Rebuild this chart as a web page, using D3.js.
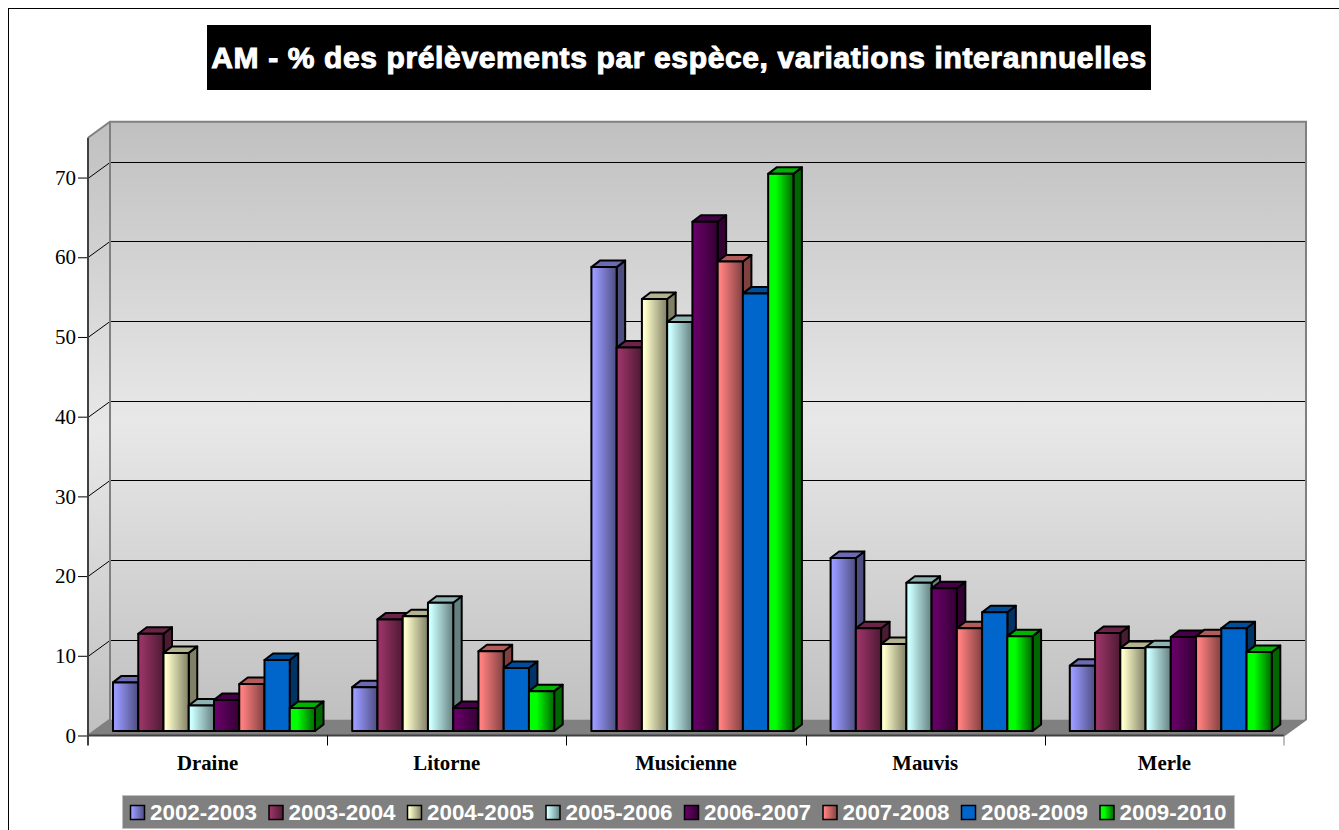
<!DOCTYPE html>
<html><head><meta charset="utf-8"><script src="https://cdn.jsdelivr.net/npm/d3@7"></script>
<style>html,body{margin:0;padding:0;background:#fff;overflow:hidden}svg{display:block}</style></head>
<body><script>
const categories=["Draine","Litorne","Musicienne","Mauvis","Merle"];
const seriesNames=["2002-2003","2003-2004","2004-2005","2005-2006","2006-2007","2007-2008","2008-2009","2009-2010"];
const draine=[6.1,12.2,9.8,3.2,3.9,5.9,8.9,2.9];
const litorne=[5.5,14.0,14.4,16.1,2.9,10.0,7.9,5.0];
const musicienne=[58.2,48.1,54.2,51.3,63.9,58.9,54.9,69.9];
const mauvis=[21.7,12.9,10.9,18.6,17.9,12.9,14.9,11.9];
const merle=[8.2,12.3,10.4,10.5,11.8,11.9,12.9,9.9];
const valuesByCategory=[draine,litorne,musicienne,mauvis,merle];
const yTicks=[0,10,20,30,40,50,60,70];
const colorsLight=["#9999ff","#993366","#ffffcc","#ccffff","#660066","#ff8080","#0066cc","#00ff00"];
const colorsDark=["#4d4d80","#4d1a33","#808066","#668080","#330033","#804040","#0066cc","#006600"];
const colorsSide=["#4d4d80","#4d1a33","#808066","#668080","#330033","#804040","#003366","#006600"];
const colorsTop=["#6b6bb3","#6b2447","#b3b38f","#8fb3b3","#470047","#b35a5a","#004d99","#00b300"];

const W=1339,H=830,dx=22,dy=16,bdx=8.5,bdy=6.5,inset=4.5;
const svg=d3.select("body").append("svg").attr("width",W).attr("height",H);
const x0=d3.scaleBand().domain(categories).range([88,1284]);
const x1=d3.scaleBand().domain(seriesNames).range([25,227]);
const y=d3.scaleLinear().domain([0,75]).range([735.5,137.7]);
const defs=svg.append("defs");
const wg=defs.append("linearGradient").attr("id","wall").attr("x1",0).attr("x2",0).attr("y1",0).attr("y2",1);
wg.append("stop").attr("offset",0).attr("stop-color","#c0c0c0");
wg.append("stop").attr("offset",.5).attr("stop-color","#e8e8e8");
wg.append("stop").attr("offset",1).attr("stop-color","#c0c0c0");
seriesNames.forEach((s,i)=>{
  const g=defs.append("linearGradient").attr("id","bar"+i);
  g.append("stop").attr("offset",0).attr("stop-color",colorsLight[i]);
  g.append("stop").attr("offset",i===7?.3:.12).attr("stop-color",colorsLight[i]);
  g.append("stop").attr("offset",1).attr("stop-color",colorsDark[i]);
});
svg.append("rect").attr("x",8.5).attr("y",8.5).attr("width",W+20).attr("height",H+20).attr("fill","#fff").attr("stroke","#000");
svg.append("rect").attr("x",207).attr("y",25).attr("width",944).attr("height",65).attr("fill","#000");
svg.append("text").attr("x",679).attr("y",68).attr("text-anchor","middle").attr("fill","#fff").attr("stroke","#fff").attr("stroke-width",1)
  .attr("letter-spacing",.63)
  .attr("font-family","'Liberation Sans',Arial,sans-serif").attr("font-weight","bold").attr("font-size",30)
  .text("AM - % des prélèvements par espèce, variations interannuelles");

const xL=x0.range()[0],xR=x0.range()[1],y0=y(0),yT=y(75);
svg.append("path").attr("d",`M${xL},${y0}L${xL+dx},${y0-dy}L${xL+dx},${yT-dy}L${xL},${yT}Z`).attr("fill","url(#wall)");
svg.append("rect").attr("x",xL+dx).attr("y",yT-dy).attr("width",xR-xL).attr("height",y0-yT).attr("fill","url(#wall)");
svg.append("path").attr("d",`M${xL},${y0}L${xL+dx},${y0-dy}L${xR+dx},${y0-dy}L${xR},${y0}Z`).attr("fill","#808080");
const grid=svg.append("g").attr("fill","none").attr("stroke","#000");
yTicks.filter(t=>t>0).forEach(t=>{
  const yy=Math.round(y(t))+.5;
  grid.append("path").attr("d",`M${xL},${yy}L${xL+dx},${yy-dy}L${xR+dx},${yy-dy}`);
});
svg.append("path").attr("fill","none").attr("stroke","#808080").attr("stroke-width",2)
  .attr("d",`M${xL},${yT}L${xL+dx},${yT-dy}L${xR+dx},${yT-dy}L${xR+dx},${y0-dy}L${xR},${y0}M${xL+dx},${yT-dy}L${xL+dx},${y0-dy}L${xL},${y0}`);
const yAxis=svg.append("g").attr("transform",`translate(${xL},0)`).call(d3.axisLeft(y).tickValues(yTicks).tickSize(10).tickPadding(2).tickFormat(d3.format("d")));
yAxis.select(".domain").remove();
yAxis.selectAll("text").attr("font-family","'Liberation Serif','Times New Roman',serif").attr("font-size",21).attr("fill","#000");
svg.append("path").attr("fill","none").attr("stroke","#404040").attr("stroke-width",2)
  .attr("d",`M${xL},${yT}L${xL},${y0+10}M${xL},${y0}L${xR},${y0}`);
const xTicks=svg.append("g").attr("stroke","#000");
categories.forEach((c,i)=>{ if(i===0) return;
  const xx=Math.round(x0(c))+.5; xTicks.append("line").attr("x1",xx).attr("x2",xx).attr("y1",y0).attr("y2",y0+10);
});
xTicks.append("line").attr("x1",xR).attr("x2",xR).attr("y1",y0).attr("y2",y0+10).attr("stroke","#808080");
svg.append("g").selectAll("text").data(categories).join("text")
  .attr("x",d=>x0(d)+x0.bandwidth()/2).attr("y",770).attr("text-anchor","middle")
  .attr("font-family","'Liberation Serif','Times New Roman',serif").attr("font-weight","bold").attr("font-size",20.8).text(d=>d);
const base=y0-inset, h=v=>y0-y(v);
categories.forEach((c,ci)=>{
  const g=svg.append("g").attr("stroke","#000").attr("stroke-width",2).attr("stroke-linejoin","round");
  valuesByCategory[ci].forEach((v,i)=>{
    const xx=x0(c)+x1(seriesNames[i]),w=x1.bandwidth(),top=base-h(v);
    g.append("path").attr("fill",colorsSide[i]).attr("d",`M${xx+w},${base}L${xx+w+bdx},${base-bdy}L${xx+w+bdx},${top-bdy}L${xx+w},${top}Z`);
    g.append("path").attr("fill",colorsTop[i]).attr("d",`M${xx},${top}L${xx+bdx},${top-bdy}L${xx+w+bdx},${top-bdy}L${xx+w},${top}Z`);
    g.append("rect").attr("x",xx).attr("y",top).attr("width",w).attr("height",base-top).attr("fill",`url(#bar${i})`);
  });
});
svg.append("rect").attr("x",122.5).attr("y",795.5).attr("width",1112).attr("height",33).attr("fill","#808080").attr("stroke","#c0c0c0");
const lx=d3.scaleBand().domain(seriesNames).range([130,1238]);
const lg=svg.append("g");
seriesNames.forEach((s,i)=>{
  const xx=lx(s);
  lg.append("rect").attr("x",xx+.5).attr("y",805.5).attr("width",14).attr("height",14).attr("fill",`url(#bar${i})`).attr("stroke","#000").attr("stroke-width",1.5);
  lg.append("text").attr("x",xx+20).attr("y",820).attr("fill","#fff").attr("font-family","'Liberation Sans',Arial,sans-serif").attr("font-weight","bold").attr("font-size",22.4).text(s);
});
</script></body></html>
